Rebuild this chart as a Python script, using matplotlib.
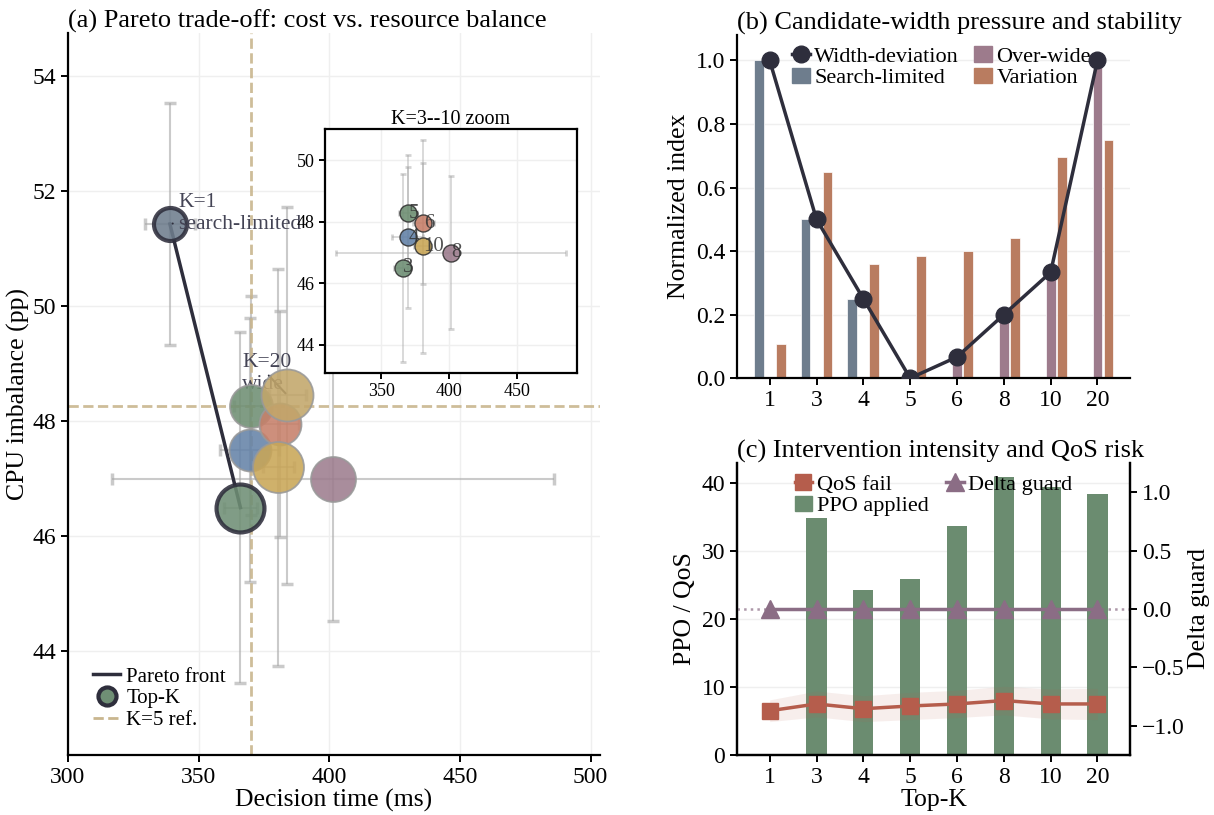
import matplotlib
matplotlib.use("Agg")
import matplotlib.pyplot as plt
from matplotlib.lines import Line2D
from matplotlib.patches import Patch
import numpy as np

plt.rcParams['font.family'] = ['Liberation Serif', 'DejaVu Serif']
plt.rcParams['axes.linewidth'] = 1.6
plt.rcParams['xtick.major.width'] = 1.4
plt.rcParams['ytick.major.width'] = 1.4
plt.rcParams['xtick.major.size'] = 5
plt.rcParams['ytick.major.size'] = 5

# data
topk = ["1", "3", "4", "5", "6", "8", "10", "20"]
dec_time = [339, 366, 369.5, 370, 381, 401.5, 380.5, 384]
dec_err = [9.7, 6.3, 11.3, 6.5, 7.6, 84.5, 6, 7]
cpu_imb = [51.43, 46.5, 47.5, 48.27, 47.95, 47.0, 47.2, 48.45]
cpu_err = [2.1, 3.05, 2.29, 1.9, 1.96, 2.47, 3.45, 3.28]
bubble = [565, 1190, 914, 958, 914, 1050, 1348, 1402]
colors = ["#6e7d8d", "#6f8f75", "#6583a8", "#6f8f73", "#c7806a", "#9d7d8e", "#c9a657", "#c2a66a"]
pareto_idx = [0, 1]
inset_idx = [1, 2, 3, 4, 5, 6]

width_dev = [1.0, 0.5, 0.25, 0.0, 0.0667, 0.2, 0.333, 1.0]
search_lim = [1.0, 0.5, 0.25, 0, 0, 0, 0, 0]
over_wide = [0, 0, 0, 0, 0.0667, 0.2, 0.333, 1.0]
variation = [0.108, 0.648, 0.359, 0.384, 0.40, 0.441, 0.696, 0.749]

ppo_applied = [0, 34.8, 24.2, 25.9, 33.6, 40.9, 39.4, 38.3]
qos_fail = [6.5, 7.5, 6.8, 7.2, 7.5, 8.0, 7.5, 7.5]
qos_sd = [1.6, 1.9, 1.9, 2.0, 2.0, 2.1, 2.2, 2.3]
delta_guard = [0, 0, 0, 0, 0, 0, 0, 0]

dark = "#2e2e3c"
ref_c = "#c9b68e"
grid_c = "#efefef"

fig = plt.figure(figsize=(12.14, 8.15), dpi=100)
ax = fig.add_axes([0.056, 0.0736, 0.438, 0.886])
axb = fig.add_axes([0.607, 0.536, 0.324, 0.421])
axc = fig.add_axes([0.607, 0.0736, 0.324, 0.3584])

# (a) pareto
ax.grid(True, color=grid_c, lw=1)
ax.set_axisbelow(True)
ax.errorbar(dec_time, cpu_imb, xerr=dec_err, yerr=cpu_err, fmt='none',
            ecolor="#a8a8a8", alpha=0.6, elinewidth=1.5, capsize=4, capthick=2.5, zorder=1)
ax.axvline(dec_time[3], color=ref_c, ls='--', lw=2, alpha=0.9, zorder=1)
ax.axhline(cpu_imb[3], color=ref_c, ls='--', lw=2, alpha=0.9, zorder=1)
ax.plot([dec_time[i] for i in pareto_idx], [cpu_imb[i] for i in pareto_idx],
        color=dark, lw=2.5, zorder=2)
for i in range(len(topk)):
    if i in pareto_idx:
        ec, lw = dark, 3
    else:
        ec, lw = "#999999", 1.3
    ax.scatter(dec_time[i], cpu_imb[i], s=bubble[i], color=colors[i], alpha=0.88,
               edgecolors=ec, linewidths=lw, zorder=3)
ax.annotate("K=1\nsearch-limited", xy=(dec_time[0], cpu_imb[0]), xytext=(342.2, 51.61),
            ha='left', va='center', fontsize=15.5, color="#444455",
            arrowprops=dict(arrowstyle='-', color=dark, lw=1.5), zorder=4)
ax.annotate("K=20\nwide", xy=(dec_time[7], cpu_imb[7]), xytext=(366.7, 48.83),
            ha='left', va='center', fontsize=15.5, color="#444455",
            arrowprops=dict(arrowstyle='-', color=dark, lw=1.5), zorder=2)
ax.set_xlim(300, 503.5)
ax.set_ylim(42.2, 54.75)
ax.set_xticks([300, 350, 400, 450, 500])
ax.set_yticks([44, 46, 48, 50, 52, 54])
ax.tick_params(labelsize=17)
ax.set_xlabel("Decision time (ms)", fontsize=18.5, labelpad=1)
ax.set_ylabel("CPU imbalance (pp)", fontsize=18.5, labelpad=2)
ax.set_title("(a) Pareto trade-off: cost vs. resource balance", loc='left', fontsize=19, pad=3)
for s in ['top', 'right']:
    ax.spines[s].set_visible(False)
handles = [Line2D([], [], color=dark, lw=2.5),
           Line2D([], [], ls='none', marker='o', markersize=13, markerfacecolor=colors[1],
                  markeredgecolor=dark, markeredgewidth=3),
           Line2D([], [], color=ref_c, ls='--', lw=2)]
ax.legend(handles, ["Pareto front", "Top-K", "K=5 ref."], loc='lower left', frameon=False,
          fontsize=15, handlelength=1.3, handletextpad=0.3, labelspacing=0.1,
          borderaxespad=0.8)

# inset
axi = fig.add_axes([0.2677, 0.5423, 0.2076, 0.2994])
axi.grid(True, color=grid_c, lw=1)
axi.set_axisbelow(True)
axi.errorbar([dec_time[i] for i in inset_idx], [cpu_imb[i] for i in inset_idx],
             xerr=[dec_err[i] for i in inset_idx], yerr=[cpu_err[i] for i in inset_idx],
             fmt='none', ecolor="#a8a8a8", alpha=0.5, elinewidth=1.2, capsize=2,
             capthick=2, zorder=1)
for i in inset_idx:
    axi.scatter(dec_time[i], cpu_imb[i], s=150, color=colors[i], alpha=0.9,
                edgecolors="#333333", linewidths=1, zorder=3)
    axi.text(dec_time[i] + 0.4, cpu_imb[i], topk[i], ha='left', va='center',
             fontsize=15, color="#333333", alpha=0.85, zorder=4)
axi.set_xticks([350, 400, 450])
axi.set_yticks([44, 46, 48, 50])
axi.tick_params(labelsize=13, length=4)
axi.set_title("K=3--10 zoom", fontsize=14.5, pad=3)

# (b) width pressure
x = np.arange(len(topk))
bw = 0.21
axb.grid(True, axis='y', color=grid_c, lw=1)
axb.set_axisbelow(True)
axb.bar(x - 0.235, search_lim, bw, color="#6e7d8d", edgecolor='white', lw=0.5, zorder=2)
axb.bar(x, over_wide, bw, color="#9d7b8c", edgecolor='white', lw=0.5, zorder=2)
axb.bar(x + 0.235, variation, bw, color="#b97c60", edgecolor='white', lw=0.5, zorder=2)
axb.plot(x, width_dev, color=dark, lw=2.5, marker='o', markersize=12, zorder=4)
axb.set_xlim(-0.7, 7.7)
axb.set_ylim(0, 1.08)
axb.set_xticks(x)
axb.set_xticklabels(topk)
axb.set_yticks([0, 0.2, 0.4, 0.6, 0.8, 1.0])
axb.tick_params(labelsize=17)
axb.set_ylabel("Normalized index", fontsize=18.5, labelpad=4)
axb.set_title("(b) Candidate-width pressure and stability", loc='left', fontsize=19, pad=3)
for s in ['top', 'right']:
    axb.spines[s].set_visible(False)
hb = [Line2D([], [], color=dark, lw=2.5, marker='o', markersize=12),
      Patch(color="#6e7d8d"), Patch(color="#9d7b8c"), Patch(color="#b97c60")]
axb.legend(hb, ["Width-deviation", "Search-limited", "Over-wide", "Variation"], ncol=2,
           loc='upper center', bbox_to_anchor=(0.52, 1.0), frameon=False, fontsize=16,
           handlelength=0.8, handletextpad=0.2, columnspacing=0.7, labelspacing=0.05,
           borderaxespad=0.1)

# (c) intervention
axc.grid(True, axis='y', color=grid_c, lw=1)
axc.set_axisbelow(True)
axc.bar(x, ppo_applied, 0.43, color="#6b8c70", zorder=2)
qf = np.array(qos_fail)
sd = np.array(qos_sd)
axc.fill_between(x, qf - sd, qf + sd, color="#b55d4c", alpha=0.1, lw=0, zorder=2)
axc.plot(x, qos_fail, color="#b55d4c", lw=2.5, marker='s', markersize=11, zorder=3)
axc.set_xlim(-0.7, 7.7)
axc.set_ylim(0, 42.9)
axc.set_xticks(x)
axc.set_xticklabels(topk)
axc.set_yticks([0, 10, 20, 30, 40])
axc.tick_params(labelsize=17)
axc.set_xlabel("Top-K", fontsize=18.5, labelpad=1)
axc.set_ylabel("PPO / QoS", fontsize=18.5, labelpad=4)
axc.set_title("(c) Intervention intensity and QoS risk", loc='left', fontsize=19, pad=3)
axc.spines['top'].set_visible(False)

axt = axc.twinx()
axt.axhline(0, color="#8b6d85", ls=':', lw=1.8, alpha=0.7)
axt.plot(x, delta_guard, color="#8b6d85", lw=2.5, marker='^', markersize=13, zorder=3)
axt.set_ylim(-1.25, 1.25)
axt.set_yticks([-1.0, -0.5, 0.0, 0.5, 1.0])
axt.tick_params(labelsize=17)
axt.set_ylabel("Delta guard", fontsize=18.5, labelpad=2)
axt.spines['top'].set_visible(False)
hc = [Line2D([], [], color="#b55d4c", lw=2.5, marker='s', markersize=11),
      Patch(color="#6b8c70"),
      Line2D([], [], color="#8b6d85", lw=2.5, marker='^', markersize=13)]
axt.legend(hc, ["QoS fail", "PPO applied", "Delta guard"], ncol=2, loc='upper center',
           frameon=False, fontsize=16, handlelength=0.8, handletextpad=0.2,
           columnspacing=0.8, labelspacing=0.05, borderaxespad=0.1)

fig.savefig("out.png", dpi=100)
